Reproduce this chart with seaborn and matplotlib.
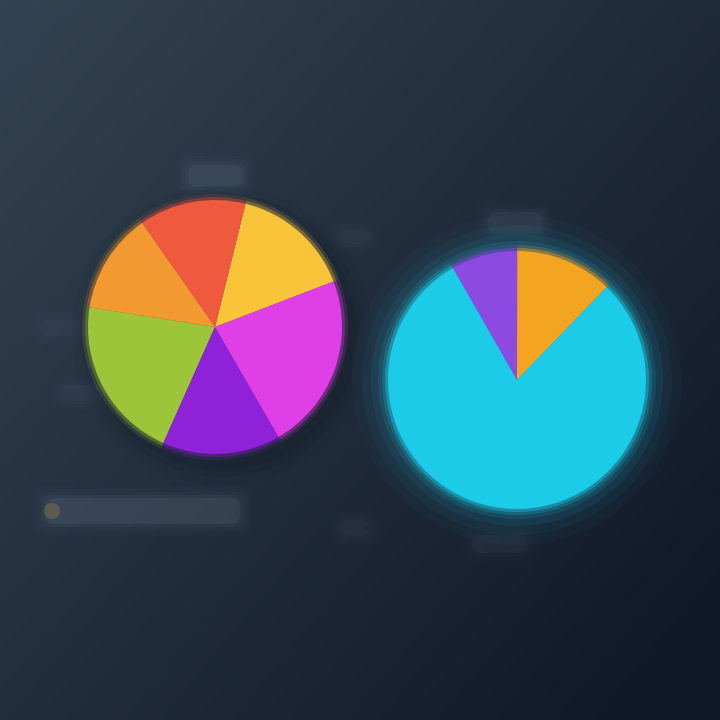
import numpy as np
import matplotlib
matplotlib.use('Agg')
import matplotlib.pyplot as plt
import seaborn as sns
from matplotlib.patches import Circle, FancyBboxPatch

# ----------------- 数据 -----------------
left_labels = ['Yellow', 'Red', 'Orange', 'Green', 'Purple', 'Magenta']
left_values = [15.3, 13.6, 12.8, 20.8, 15.0, 22.5]
left_colors = ['#f8c43a', '#ef5a3e', '#f29a30', '#9dc53a', '#8f22d8', '#de3fe6']

right_labels = ['Orange', 'Purple', 'Cyan']
right_values = [12.2, 8.3, 79.5]
right_colors = ['#f3a522', '#8c4ae0', '#1ccbe8']

sns.set_theme(style='dark')
plt.rcParams['font.family'] = ['DejaVu Sans']

fig = plt.figure(figsize=(7.2, 7.2), dpi=100)
ax = fig.add_axes([0, 0, 1, 1])

# 背景渐变（左上偏亮，右下偏暗）
yy, xx = np.mgrid[0:1:200j, 0:1:200j]
t = np.clip(0.6 * xx + 0.5 * yy, 0, 1)
top = np.array([0.20, 0.26, 0.32])
bot = np.array([0.07, 0.10, 0.16])
bg = top[None, None, :] * (1 - t[..., None]) + bot[None, None, :] * t[..., None]
ax.imshow(bg, extent=[0, 720, 0, 720], origin='upper', zorder=0, aspect='auto')

# 模糊的标签占位（原图中文字不可辨认）
def blob(x, y, w, h, color='#8a9bb0', alpha=0.08):
    for k in range(5):
        pad = k * 3
        ax.add_patch(FancyBboxPatch((x - pad, 720 - y - h - pad), w + 2 * pad, h + 2 * pad,
                                    boxstyle='round,pad=0,rounding_size=10',
                                    fc=color, ec='none', alpha=alpha / (k + 1), zorder=1))

blob(188, 165, 55, 22, alpha=0.09)
blob(40, 320, 40, 16, alpha=0.04)
blob(60, 385, 40, 16, alpha=0.04)
blob(340, 230, 30, 14, alpha=0.04)
blob(45, 498, 195, 26, alpha=0.10)
ax.add_patch(Circle((52, 720 - 511), 8, fc='#c89a40', ec='none', alpha=0.25, zorder=2))
blob(488, 212, 55, 22, alpha=0.07)
blob(472, 535, 55, 18, alpha=0.05)
blob(340, 520, 30, 16, alpha=0.04)

# 阴影 / 光晕
for r, a in [(150, 0.05), (142, 0.07), (135, 0.10)]:
    ax.add_patch(Circle((222, 720 - 335), r, fc='#0a1018', ec='none', alpha=a, zorder=2))
for r, a in [(165, 0.03), (155, 0.05), (146, 0.08), (139, 0.12)]:
    ax.add_patch(Circle((517, 720 - 380), r, fc='#20c8e8', ec='none', alpha=a, zorder=2))

# 左侧饼图（多层半透明模拟柔和边缘）
for rr, a in [(133, 0.15), (130, 0.3)]:
    w, _ = ax.pie(left_values, colors=left_colors, startangle=21, counterclock=True,
                  center=(215, 720 - 327), radius=rr, frame=True,
                  wedgeprops=dict(linewidth=0, alpha=a))
    for p in w:
        p.set_zorder(3)
wl, _ = ax.pie(left_values, colors=left_colors, startangle=21, counterclock=True,
               center=(215, 720 - 327), radius=127, frame=True,
               wedgeprops=dict(linewidth=0))
for p in wl:
    p.set_zorder(4)

# 右侧饼图
for rr, a in [(135, 0.2), (132, 0.4)]:
    w, _ = ax.pie(right_values, colors=right_colors, startangle=46, counterclock=True,
                  center=(517, 720 - 380), radius=rr, frame=True,
                  wedgeprops=dict(linewidth=0, alpha=a))
    for p in w:
        p.set_zorder(3)
wr, _ = ax.pie(right_values, colors=right_colors, startangle=46, counterclock=True,
               center=(517, 720 - 380), radius=129, frame=True,
               wedgeprops=dict(linewidth=0))
for p in wr:
    p.set_zorder(4)

ax.set_xlim(0, 720)
ax.set_ylim(0, 720)
ax.set_aspect('equal')
ax.axis('off')
fig.savefig('out.png', dpi=100)
